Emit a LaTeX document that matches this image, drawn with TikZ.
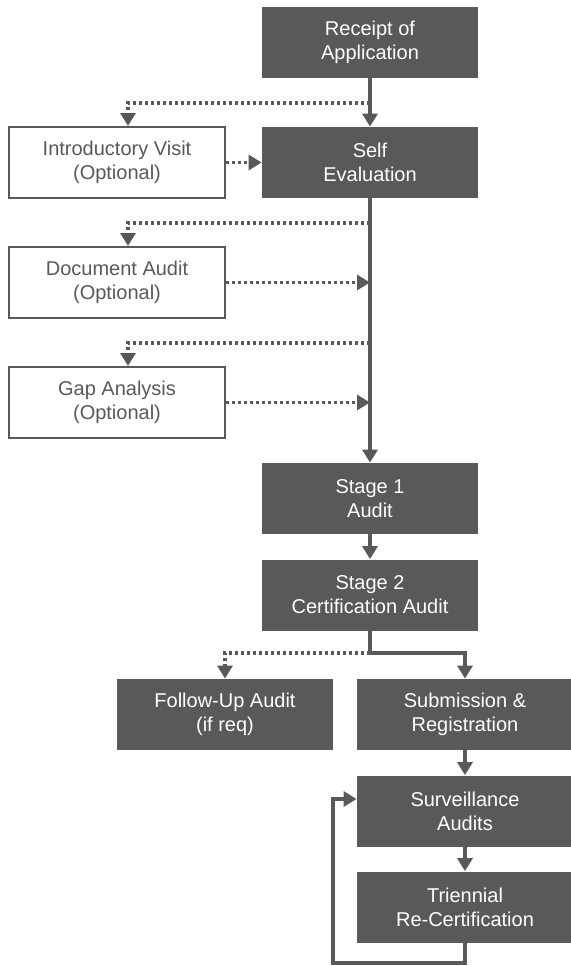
\documentclass[tikz,border=0pt]{standalone}
\usepackage{fontspec}
\setmainfont{Liberation Sans}
\usetikzlibrary{arrows.meta}
\definecolor{boxgray}{HTML}{595959}
\begin{document}
\begin{tikzpicture}[x=0.5pt, y=-0.5pt, every node/.style={rectangle, align=center, inner sep=0pt, font=\fontsize{10}{12}\selectfont},
    darkbox/.style={fill=boxgray, text=white, minimum width=108pt, minimum height=35.5pt},
    lightbox/.style={draw=boxgray, line width=1pt, fill=white, text=boxgray, minimum width=108pt, minimum height=35.5pt},
    flow/.style={draw=boxgray, line width=1.9pt, -{Triangle[width=7.5pt,length=6.5pt]}},
    optflow/.style={flow, line width=1.6pt, dash pattern=on 1.6pt off 1.4pt}]
    \useasboundingbox (0,0) rectangle (570,966);
    \node[darkbox] (rec) at (370,42.5) {Receipt of\\Application};
    \node[lightbox] (intro) at (117,162.5) {Introductory Visit\\(Optional)};
    \node[darkbox] (self) at (370,162.5) {Self\\Evaluation};
    \node[lightbox] (doc) at (117,282.5) {Document Audit\\(Optional)};
    \node[lightbox] (gap) at (117,402.5) {Gap Analysis\\(Optional)};
    \node[darkbox] (st1) at (370,498.5) {Stage 1\\Audit};
    \node[darkbox] (st2) at (370,595) {Stage 2\\Certification Audit};
    \node[darkbox] (fu) at (225,714.5) {Follow-Up Audit\\(if req)};
    \node[darkbox] (sub) at (465,714.5) {Submission \&\\Registration};
    \node[darkbox] (surv) at (465,811) {Surveillance\\Audits};
    \node[darkbox] (tri) at (465,907) {Triennial\\Re-Certification};
    \coordinate (b1) at (370,103);
    \coordinate (b2) at (370,223);
    \coordinate (b3) at (370,343);
    \coordinate (b4) at (370,653);
    \coordinate (m2) at (370,282.5);
    \coordinate (m3) at (370,402.5);
    \coordinate (lp) at (333,963);
    % optional steps
    \foreach \from/\to in {b1/intro, b2/doc, b3/gap}
        \draw[optflow] (\from) -| ([xshift=5.5pt]\to.north);
    \foreach \from/\to in {intro/self, doc/m2, gap/m3}
        \draw[optflow] (\from) -- (\to);
    \draw[optflow] (b4) -| (fu.north);
    % main steps
    \foreach \from/\to in {rec/self, self/st1, st1/st2, sub/surv, surv/tri}
        \draw[flow] (\from) -- (\to);
    \draw[flow] (st2.south) -- (b4) -| (sub.north);
    \draw[flow] (tri.south) |- (lp) |- ([yshift=6pt]surv.west);
\end{tikzpicture}
\end{document}
